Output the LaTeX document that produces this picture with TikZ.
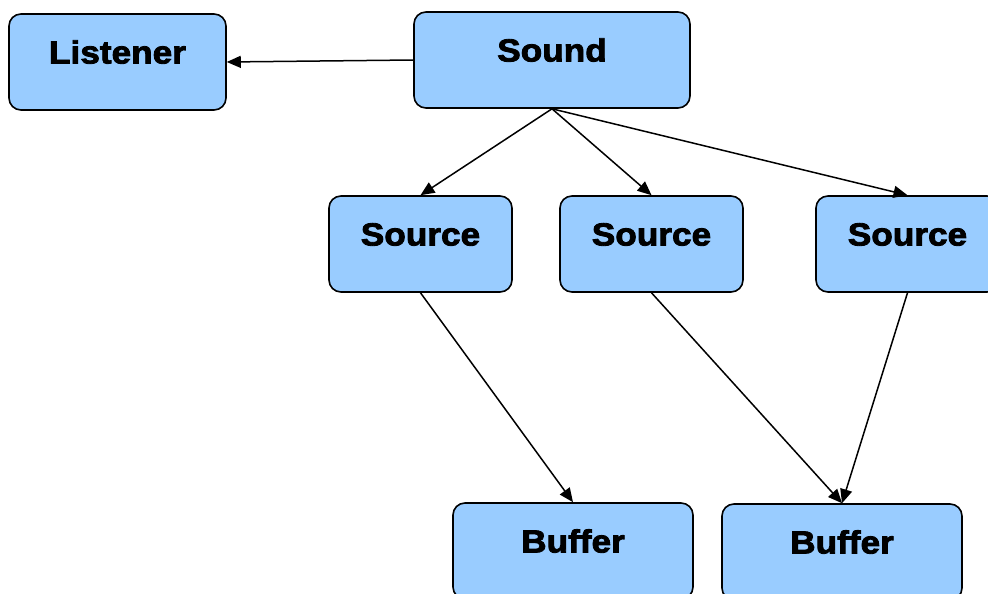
\documentclass[tikz,border=0pt]{standalone}
\usepackage{fontspec}
\setmainfont{Liberation Sans}[FakeBold=2.6,FakeStretch=1.1]
\usetikzlibrary{arrows.meta}
\definecolor{boxblue}{HTML}{99CCFF}
\tikzset{
  objbox/.style={draw=black, line width=1.6pt, fill=boxblue, rounded corners=12pt,
    inner sep=0pt, text height=49.5pt, text depth=46.5pt, minimum height=96pt,
    font=\fontsize{32}{36}\selectfont\bfseries},
  link/.style={line width=1.5pt, -{Triangle[length=14pt,width=12pt]}}
}
\begin{document}
\begin{tikzpicture}[x=1pt,y=-1pt]
\useasboundingbox (0,0) rectangle (988,594);
\clip (0,0) rectangle (988,594);
\node[objbox, minimum width=217pt] (listener) at (117.5,62) {Listener};
\node[objbox, minimum width=276pt] (sound) at (552,60) {Sound};
\node[objbox, minimum width=183pt] (src1) at (420.5,244) {Source};
\node[objbox, minimum width=183pt] (src2) at (651.5,244) {Source};
\node[objbox, minimum width=183pt] (src3) at (907.5,244) {Source};
\node[objbox, minimum width=240pt] (buf1) at (573,551) {Buffer};
\node[objbox, minimum width=240pt] (buf2) at (842,552) {Buffer};
\draw[link] (sound.west) -- (listener.east);
\draw[link] (sound.south) -- (src1.north);
\draw[link] (sound.south) -- (src2.north);
\draw[link] (sound.south) -- (src3.north);
\draw[link] (src1.south) -- (buf1.north);
\draw[link] (src2.south) -- (buf2.north);
\draw[link] (src3.south) -- (buf2.north);
\end{tikzpicture}
\end{document}
